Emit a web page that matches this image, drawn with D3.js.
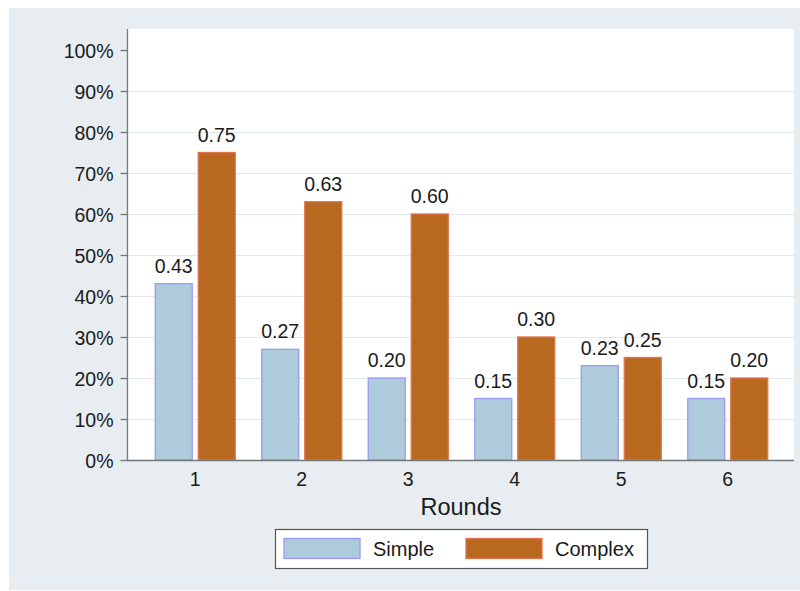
<!DOCTYPE html>
<html>
<head>
<meta charset="utf-8">
<script src="https://cdn.jsdelivr.net/npm/d3@7"></script>
<style>
  html, body { margin: 0; padding: 0; background: #ffffff; }
  svg { display: block; font-family: "Liberation Sans", Arial, Helvetica, sans-serif; }
</style>
</head>
<body>
<svg id="chart" width="800" height="591"></svg>
<script>
const rounds = ["1", "2", "3", "4", "5", "6"];
const seriesNames = ["Simple", "Complex"];
const simpleValues = [0.43, 0.27, 0.20, 0.15, 0.23, 0.15];
const complexValues = [0.75, 0.63, 0.60, 0.30, 0.25, 0.20];
const yTicks = [0, 0.1, 0.2, 0.3, 0.4, 0.5, 0.6, 0.7, 0.8, 0.9, 1.0];
const xTitle = "Rounds";

const fills = { Simple: "#aecbdc", Complex: "#b8691f" };
const strokes = { Simple: "#9a9af2", Complex: "#e0744e" };

const svg = d3.select("#chart");

// outer background
svg.append("rect").attr("x", 9).attr("y", 8).attr("width", 791).attr("height", 582)
  .attr("fill", "#e7edf0");

const plot = { left: 127.5, right: 794, top: 29, bottom: 460 };

svg.append("rect").attr("x", plot.left).attr("y", plot.top)
  .attr("width", plot.right - plot.left).attr("height", plot.bottom - plot.top)
  .attr("fill", "#ffffff");

const y = d3.scaleLinear().domain([0, 1]).range([460, 50]);
const x = d3.scaleBand().domain(rounds).range([142, 781]).padding(0);

// gridlines
svg.append("g").selectAll("line")
  .data(yTicks.filter(t => t > 0 && t < 1))
  .join("line")
  .attr("x1", plot.left).attr("x2", plot.right)
  .attr("y1", d => Math.round(y(d)) + 0.5).attr("y2", d => Math.round(y(d)) + 0.5)
  .attr("stroke", "#e3eaef").attr("stroke-width", 1.2);

// bars
const barW = 37, gap = 3;
const data = rounds.map((r, i) => ({ r, Simple: simpleValues[i], Complex: complexValues[i] }));
const groups = svg.append("g").selectAll("g").data(data).join("g");

seriesNames.forEach((s, si) => {
  groups.append("rect")
    .attr("x", d => x(d.r) + x.bandwidth() / 2 + (si === 0 ? -gap - barW : gap))
    .attr("y", d => y(d[s]))
    .attr("width", barW)
    .attr("height", d => y(0) - y(d[s]))
    .attr("fill", fills[s])
    .attr("stroke", strokes[s])
    .attr("stroke-width", 1.3);
  groups.append("text")
    .attr("x", d => x(d.r) + x.bandwidth() / 2 + (si === 0 ? -gap - barW / 2 : gap + barW / 2))
    .attr("y", d => y(d[s]) - 11)
    .attr("text-anchor", "middle")
    .attr("font-size", "19.5px")
    .attr("fill", "#1a1a1a")
    .text(d => d3.format(".2f")(d[s]));
});

// y axis
const yAxis = d3.axisLeft(y).tickValues(yTicks).tickSize(7).tickPadding(7)
  .tickFormat(d3.format(".0%"));
const gy = svg.append("g").attr("transform", `translate(${plot.left},0)`).call(yAxis);
gy.select(".domain").remove();
gy.selectAll(".tick line").attr("stroke", "#777").attr("stroke-width", 1.3);
gy.selectAll(".tick text").attr("font-size", "19.5px").attr("fill", "#1a1a1a")
  .attr("font-family", "\"Liberation Sans\", Arial, sans-serif").attr("dy", "0.36em");
svg.append("line").attr("x1", plot.left).attr("x2", plot.left)
  .attr("y1", plot.top).attr("y2", plot.bottom + 1)
  .attr("stroke", "#777").attr("stroke-width", 1.3);

// x axis
const xAxis = d3.axisBottom(x).tickSize(0).tickPadding(12);
const gx = svg.append("g").attr("transform", `translate(0,${plot.bottom})`).call(xAxis);
gx.select(".domain").remove();
gx.selectAll(".tick text").attr("font-size", "19.5px").attr("fill", "#1a1a1a")
  .attr("font-family", "\"Liberation Sans\", Arial, sans-serif");
svg.append("line").attr("x1", plot.left).attr("x2", plot.right)
  .attr("y1", plot.bottom + 0.5).attr("y2", plot.bottom + 0.5)
  .attr("stroke", "#777").attr("stroke-width", 1.5);

// x title
svg.append("text").attr("x", 461).attr("y", 515).attr("text-anchor", "middle")
  .attr("font-size", "23.5px").attr("fill", "#1a1a1a").text(xTitle);

// legend
const leg = svg.append("g");
leg.append("rect").attr("x", 275.5).attr("y", 529.5).attr("width", 372).attr("height", 39)
  .attr("fill", "#ffffff").attr("stroke", "#555").attr("stroke-width", 1.2);
const legX = [{ sx: 284, tx: 373 }, { sx: 466, tx: 555 }];
seriesNames.forEach((s, i) => {
  leg.append("rect").attr("x", legX[i].sx).attr("y", 538.5).attr("width", 76).attr("height", 20)
    .attr("fill", fills[s]).attr("stroke", strokes[s]).attr("stroke-width", 1.3);
  leg.append("text").attr("x", legX[i].tx).attr("y", 556).attr("font-size", "20px")
    .attr("fill", "#1a1a1a").text(s);
});
</script>
</body>
</html>
